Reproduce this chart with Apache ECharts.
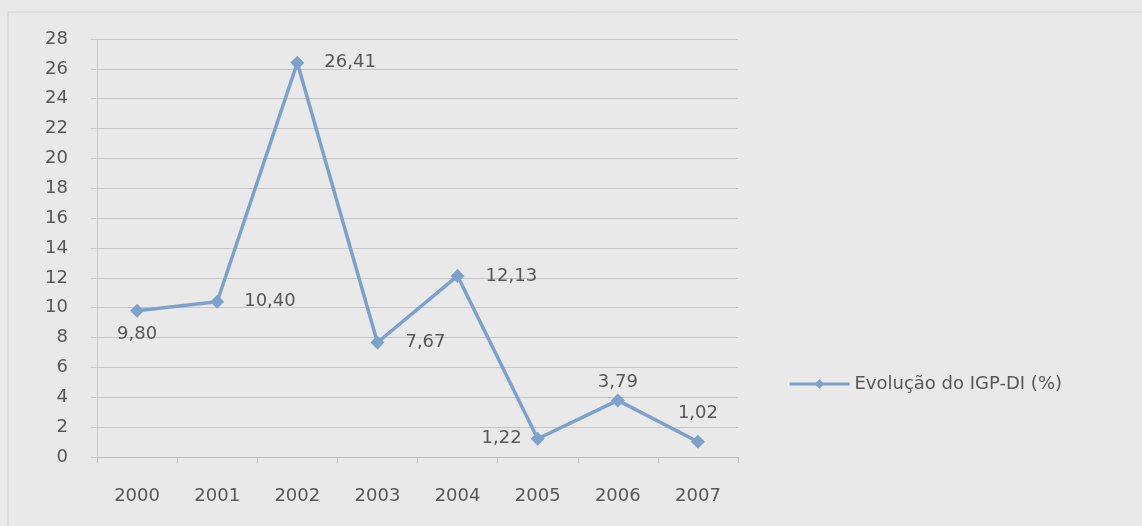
<!DOCTYPE html>
<html lang="pt">
<head>
	<meta charset="UTF-8">
	<title>Evolução do IGP-DI</title>
	<script type="text/javascript" src="https://cdn.jsdelivr.net/npm/echarts@6/dist/echarts.min.js"></script>
	<style>
		html, body { margin: 0; padding: 0; background: #e9e9e9; }
		#chart { width: 1142px; height: 526px; }
	</style>
</head>
<body>
	<div id="chart"></div>
	<script type="text/javascript">
		var years = ['2000', '2001', '2002', '2003', '2004', '2005', '2006', '2007'];
		var igpValues = [9.80, 10.40, 26.41, 7.67, 12.13, 1.22, 3.79, 1.02];
		var seriesName = 'Evolução do IGP-DI (%)';

		// where each value label sits, relative to its point
		var labelSides = ['bottom', 'right', 'right', 'right', 'right', 'left', 'top', 'top'];
		var labelGaps = [8, 20, 20, 21, 21, 9, 2, 12];

		var lineColor = '#7da1cd';
		var textColor = '#585858';
		var font = 'DejaVu Sans';

		var myChart = echarts.init(document.getElementById('chart'));

		var points = igpValues.map(function (v, i) {
			return {
				value: v,
				label: { position: labelSides[i], distance: labelGaps[i] }
			};
		});

		var option = {
			backgroundColor: '#e9e9e9',
			textStyle: { fontFamily: font, color: textColor },
			graphic: [{
				type: 'rect',
				shape: { x: 8, y: 12, width: 1160, height: 530 },
				style: { fill: 'none', stroke: '#d2d2d2', lineWidth: 1 },
				silent: true
			}],
			grid: { left: 97, right: 404, top: 39, bottom: 69 },
			legend: {
				data: [seriesName],
				left: 783,
				top: 370,
				itemWidth: 60,
				itemHeight: 12,
				lineStyle: { width: 3 },
				textStyle: { color: textColor, fontSize: 18, fontFamily: font }
			},
			xAxis: {
				type: 'category',
				data: years,
				boundaryGap: true,
				axisLine: { lineStyle: { color: '#bdbdbd' } },
				axisTick: { show: true, length: 6, lineStyle: { color: '#bdbdbd' } },
				axisLabel: { color: textColor, fontSize: 18, margin: 30 }
			},
			yAxis: {
				type: 'value',
				min: 0,
				max: 28,
				interval: 2,
				axisLine: { show: true, lineStyle: { color: '#c8c8c8' } },
				axisTick: { show: true, length: 6, lineStyle: { color: '#c8c8c8' } },
				axisLabel: { color: textColor, fontSize: 18, margin: 29 },
				splitLine: { lineStyle: { color: '#c6c6c6' } }
			},
			series: [{
				name: seriesName,
				type: 'line',
				data: points,
				symbol: 'diamond',
				symbolSize: 14,
				lineStyle: { color: lineColor, width: 3.5 },
				itemStyle: { color: lineColor },
				label: {
					show: true,
					color: textColor,
					fontSize: 18,
					formatter: function (p) {
						return p.value.toFixed(2).replace('.', ',');
					}
				}
			}]
		};
		myChart.setOption(option);
	</script>
</body>
</html>
